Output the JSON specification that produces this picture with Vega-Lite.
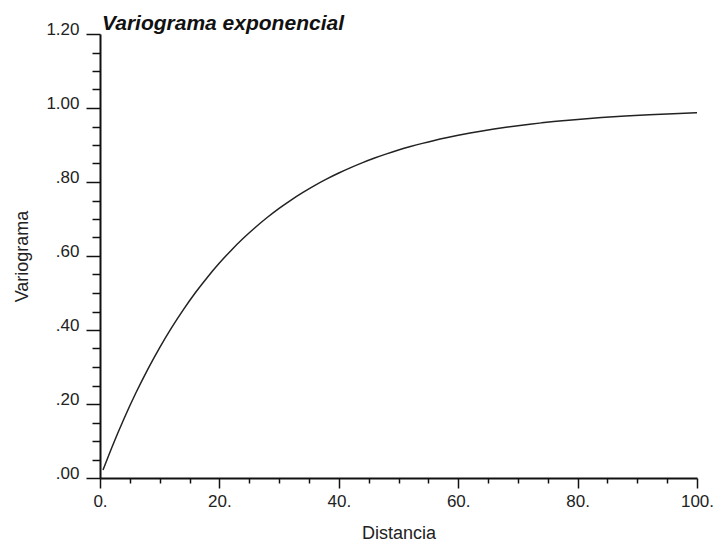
{
  "$schema": "https://vega.github.io/schema/vega-lite/v6.json",
  "width": 597,
  "height": 444,
  "autosize": {"type": "none"},
  "padding": {"left": 100, "top": 34, "right": 19, "bottom": 69},
  "background": "white",
  "title": {
    "text": "Variograma exponencial",
    "anchor": "start",
    "frame": "group",
    "font": "Liberation Sans",
    "fontSize": 21,
    "fontWeight": "bold",
    "fontStyle": "italic",
    "color": "#111",
    "offset": 6,
    "dy": 37,
    "dx": 2,
    "baseline": "alphabetic"
  },
  "config": {"view": {"stroke": null}},
  "data": {
    "values": [
      {"distancia": 0.5, "variograma": 0.0215},
      {"distancia": 2, "variograma": 0.0833},
      {"distancia": 4, "variograma": 0.1596},
      {"distancia": 6, "variograma": 0.2296},
      {"distancia": 8, "variograma": 0.2938},
      {"distancia": 10, "variograma": 0.3526},
      {"distancia": 12, "variograma": 0.4065},
      {"distancia": 14, "variograma": 0.4559},
      {"distancia": 16, "variograma": 0.5013},
      {"distancia": 18, "variograma": 0.5428},
      {"distancia": 20, "variograma": 0.5809},
      {"distancia": 22, "variograma": 0.6158},
      {"distancia": 24, "variograma": 0.6478},
      {"distancia": 26, "variograma": 0.6771},
      {"distancia": 28, "variograma": 0.7040},
      {"distancia": 30, "variograma": 0.7287},
      {"distancia": 32, "variograma": 0.7513},
      {"distancia": 34, "variograma": 0.7720},
      {"distancia": 36, "variograma": 0.7910},
      {"distancia": 38, "variograma": 0.8084},
      {"distancia": 40, "variograma": 0.8243},
      {"distancia": 42, "variograma": 0.8389},
      {"distancia": 44, "variograma": 0.8524},
      {"distancia": 46, "variograma": 0.8647},
      {"distancia": 48, "variograma": 0.8760},
      {"distancia": 50, "variograma": 0.8863},
      {"distancia": 52, "variograma": 0.8957},
      {"distancia": 54, "variograma": 0.9044},
      {"distancia": 56, "variograma": 0.9124},
      {"distancia": 58, "variograma": 0.9197},
      {"distancia": 60, "variograma": 0.9264},
      {"distancia": 62, "variograma": 0.9325},
      {"distancia": 64, "variograma": 0.9381},
      {"distancia": 66, "variograma": 0.9433},
      {"distancia": 68, "variograma": 0.9480},
      {"distancia": 70, "variograma": 0.9523},
      {"distancia": 72, "variograma": 0.9563},
      {"distancia": 74, "variograma": 0.9599},
      {"distancia": 76, "variograma": 0.9633},
      {"distancia": 78, "variograma": 0.9663},
      {"distancia": 80, "variograma": 0.9691},
      {"distancia": 84, "variograma": 0.9741},
      {"distancia": 88, "variograma": 0.9782},
      {"distancia": 92, "variograma": 0.9817},
      {"distancia": 96, "variograma": 0.9846},
      {"distancia": 100, "variograma": 0.9871}
    ]
  },
  "mark": {"type": "line", "color": "#222", "strokeWidth": 1.5, "interpolate": "monotone"},
  "encoding": {
    "x": {
      "field": "distancia",
      "type": "quantitative",
      "scale": {"domain": [0, 100], "nice": false, "zero": false},
      "axis": {
        "title": "Distancia",
        "values": [0, 5, 10, 15, 20, 25, 30, 35, 40, 45, 50, 55, 60, 65, 70, 75, 80, 85, 90, 95, 100],
        "labelExpr": "datum.value % 20 === 0 ? format(datum.value, 'd') + '.' : ''",
        "tickSize": {"condition": {"test": "datum.value % 20 === 0", "value": 10}, "value": 5},
        "grid": false,
        "domainColor": "#111",
        "domainWidth": 2,
        "tickColor": "#111",
        "tickWidth": 1.5,
        "labelFont": "Liberation Sans",
        "labelFontSize": 17,
        "labelColor": "#222",
        "labelPadding": 5,
        "labelFlush": false,
        "labelOverlap": false,
        "titleFont": "Liberation Sans",
        "titleFontSize": 18,
        "titleFontWeight": "normal",
        "titleColor": "#222",
        "titlePadding": 15
      }
    },
    "y": {
      "field": "variograma",
      "type": "quantitative",
      "scale": {"domain": [0, 1.2], "nice": false, "zero": false},
      "axis": {
        "title": "Variograma",
        "values": [0, 0.05, 0.1, 0.15, 0.2, 0.25, 0.3, 0.35, 0.4, 0.45, 0.5, 0.55, 0.6, 0.65, 0.7, 0.75, 0.8, 0.85, 0.9, 0.95, 1.0, 1.05, 1.1, 1.15, 1.2],
        "labelExpr": "abs(datum.value * 5 - round(datum.value * 5)) < 0.001 ? (datum.value < 1 ? substring(format(datum.value, '.2f'), 1) : format(datum.value, '.2f')) : ''",
        "tickSize": {"condition": {"test": "abs(datum.value * 5 - round(datum.value * 5)) < 0.001", "value": 14}, "value": 8},
        "grid": false,
        "domainColor": "#111",
        "domainWidth": 2,
        "tickColor": "#111",
        "tickWidth": 1.5,
        "labelFont": "Liberation Sans",
        "labelFontSize": 17,
        "labelColor": "#222",
        "labelPadding": 7,
        "labelBaseline": "alphabetic",
        "labelFlush": false,
        "labelOverlap": false,
        "titleFont": "Liberation Sans",
        "titleFontSize": 18,
        "titleFontWeight": "normal",
        "titleColor": "#222",
        "titlePadding": 14
      }
    }
  }
}
